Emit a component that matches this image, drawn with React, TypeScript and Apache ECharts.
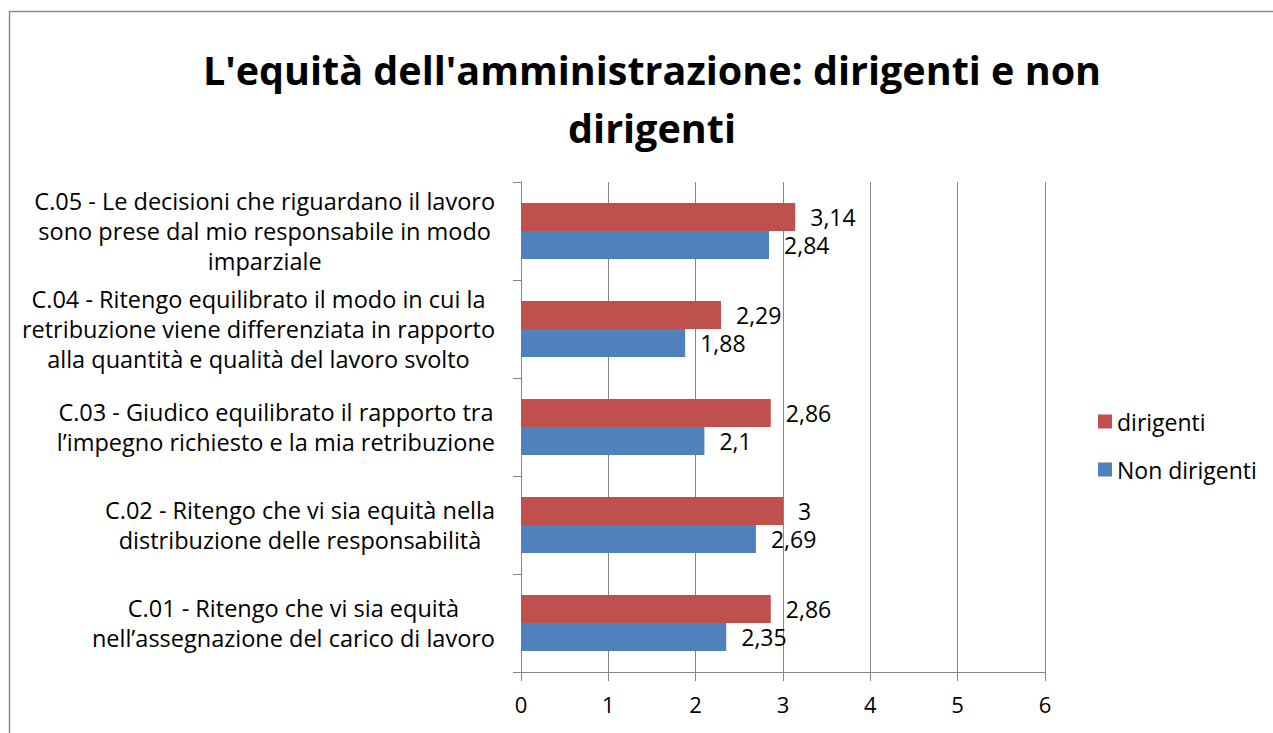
import React, { useEffect, useRef } from "react";
import * as echarts from "echarts";

const categories = [
  "C.01 - Ritengo che vi sia equità\nnell’assegnazione del carico di lavoro",
  "C.02 - Ritengo che vi sia equità nella\ndistribuzione delle responsabilità",
  "C.03 - Giudico equilibrato il rapporto tra\nl’impegno richiesto e la mia retribuzione",
  "C.04 - Ritengo equilibrato il modo in cui la\nretribuzione viene differenziata in rapporto\nalla quantità e qualità del lavoro svolto",
  "C.05 - Le decisioni che riguardano il lavoro\nsono prese dal mio responsabile in modo\nimparziale",
];
const dirigenti = [2.86, 3, 2.86, 2.29, 3.14];
const nonDirigenti = [2.35, 2.69, 2.1, 1.88, 2.84];
const titleText = "L'equità dell'amministrazione: dirigenti e non\ndirigenti";

const FONT = "'Open Sans', 'Noto Sans', sans-serif";

export default function App() {
  const ref = useRef<HTMLDivElement>(null);
  useEffect(() => {
    if (!ref.current) return;
    const chart = echarts.init(ref.current, null, { renderer: "svg" });
    const fmt = (p: any) => String(p.value).replace(".", ",");
    chart.setOption({
      animation: false,
      textStyle: { fontFamily: FONT },
      title: {
        text: titleText,
        left: 647,
        top: 36,
        textAlign: "center",
        textStyle: { fontFamily: FONT, fontSize: 39.5, fontWeight: "bold", color: "#000", lineHeight: 58 },
      },
      graphic: [
        {
          type: "rect",
          shape: { x: 9.5, y: 11.5, width: 1400, height: 900 },
          style: { fill: "none", stroke: "#8a8a8a", lineWidth: 1.5 },
          silent: true,
        },
      ],
      legend: {
        orient: "vertical",
        left: 1093,
        top: 405,
        itemWidth: 14,
        itemHeight: 14,
        itemGap: 25,
        icon: "rect",
        data: ["dirigenti", "Non dirigenti"],
        textStyle: { fontFamily: FONT, fontSize: 23, color: "#000" },
      },
      grid: { left: 521, right: 228, top: 182, bottom: 61, containLabel: false },
      xAxis: {
        type: "value",
        min: 0,
        max: 6,
        interval: 1,
        axisLine: { show: true, lineStyle: { color: "#868686", width: 1 } },
        axisTick: { show: true, length: 9, lineStyle: { color: "#868686" } },
        splitLine: { show: true, lineStyle: { color: "#868686", width: 1 } },
        axisLabel: { fontFamily: FONT, fontSize: 22, color: "#000", margin: 21 },
      },
      yAxis: {
        type: "category",
        data: categories,
        axisLine: { show: true, lineStyle: { color: "#868686", width: 1 } },
        axisTick: { show: true, length: 8, lineStyle: { color: "#868686" } },
        axisLabel: {
          margin: 26,
          align: "right",
          formatter: (v: string) => v.split("\n").map((l) => `{c|${l}}`).join("\n"),
          rich: {
            c: { align: "center", fontFamily: FONT, fontSize: 23.5, lineHeight: 30, color: "#000" },
          },
        },
      },
      series: [
        {
          name: "dirigenti",
          type: "bar",
          data: dirigenti,
          barGap: "0%",
          barCategoryGap: "43%",
          itemStyle: { color: "#C0504D" },
          label: { show: true, position: "right", distance: 15, formatter: fmt, fontFamily: FONT, fontSize: 23, lineHeight: 26, color: "#000" },
        },
        {
          name: "Non dirigenti",
          type: "bar",
          data: nonDirigenti,
          barGap: "0%",
          barCategoryGap: "43%",
          itemStyle: { color: "#4F81BD" },
          label: { show: true, position: "right", distance: 15, formatter: fmt, fontFamily: FONT, fontSize: 23, lineHeight: 26, color: "#000" },
        },
      ],
    });
    return () => chart.dispose();
  }, []);
  return <div ref={ref} style={{ position: "fixed", left: 0, top: 0, width: 1273, height: 733, background: "#fff" }} />;
}
